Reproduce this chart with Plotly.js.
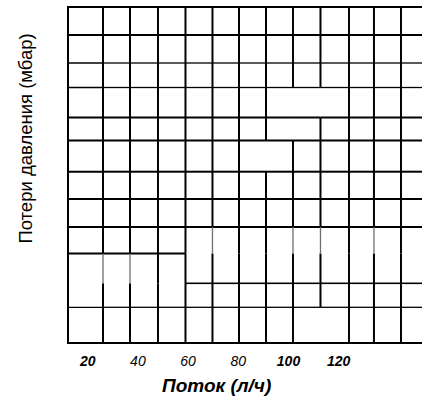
<!DOCTYPE html>
<html><head><meta charset="utf-8">
<script src="https://cdn.plot.ly/plotly-3.0.1.min.js"></script>
<style>html,body{margin:0;padding:0;background:#fff}#chart{width:422px;height:401px}</style>
</head><body><div id="chart"></div>
<script>
// Flow axis (л/ч) tick labels
const xTickVals = [20, 40, 60, 80, 100, 120];
const xTickText = ['<b>20</b>', '40', '60', '80', '<b>100</b>', '<b>120</b>'];
const xRange = [12.55, 153.2];
const yRange = [0, 334];
// vertical grid lines (flow values)
const vLines = [26.1, 36.85, 48.0, 58.96, 69.72, 80.28, 91.04, 101.79, 112.75, 124.1, 134.06, 144.82];
// horizontal grid lines, top to bottom (pressure loss units)
const hLines = [307, 279, 254.5, 224.5, 201.5, 170.3, 143, 115, 88.5, 58.7, 34.7];
const hWidths = [2, 1.3, 1.3, 2, 2, 2, 2, 2, 2, 1.6, 1.3];
// missing vertical pieces: [line (1-based), row (0-based from top)]
const vMissing = [[8, 3], [9, 3], [8, 4], [7, 5], [9, 11]];
// faint vertical pieces
const vFaint = [[5, 8], [8, 8], [9, 8], [11, 8], [1, 9], [2, 9]];
// missing horizontal pieces: [line (1-based), first column, last column]
const hMissing = [[9, 4, 12], [10, 0, 3]];

const yEdges = [yRange[1], ...hLines, yRange[0]];
const xEdges = [xRange[0], ...vLines, xRange[1]];
const has = (list, a, b) => list.some(p => p[0] === a && p[1] === b);

const vx = [], vy = [], fx = [], fy = [];
vLines.forEach((x, k) => {
  for (let j = 0; j < yEdges.length - 1; j++) {
    if (has(vMissing, k + 1, j)) continue;
    const faint = has(vFaint, k + 1, j);
    const tx = faint ? fx : vx;
    const ty = faint ? fy : vy;
    tx.push(x, x, null); ty.push(yEdges[j], yEdges[j + 1], null);
  }
});
const traces = [];
const byWidth = {};
hLines.forEach((y, i) => {
  const w = hWidths[i];
  if (!byWidth[w]) byWidth[w] = {x: [], y: []};
  for (let c = 0; c < xEdges.length - 1; c++) {
    if (hMissing.some(m => m[0] === i + 1 && c >= m[1] && c <= m[2])) continue;
    byWidth[w].x.push(xEdges[c], xEdges[c + 1], null);
    byWidth[w].y.push(y, y, null);
  }
});
Object.keys(byWidth).forEach(w => traces.push({x: byWidth[w].x, y: byWidth[w].y, mode: 'lines',
  line: {color: '#000', width: +w}, hoverinfo: 'skip', showlegend: false}));
traces.push({x: vx, y: vy, mode: 'lines', line: {color: '#000', width: 2}, hoverinfo: 'skip', showlegend: false});
traces.push({x: fx, y: fy, mode: 'lines', line: {color: '#6e6e6e', width: 1.3}, hoverinfo: 'skip', showlegend: false});

const fam = 'Liberation Sans, Arial, sans-serif';
const layout = {
  width: 422, height: 401,
  margin: {l: 69, r: 0, t: 8, b: 59},
  paper_bgcolor: '#fff', plot_bgcolor: '#fff',
  showlegend: false,
  xaxis: {range: xRange, tickvals: xTickVals, ticktext: xTickText, ticks: '', showgrid: false, zeroline: false,
    showline: true, linewidth: 2, linecolor: '#000', mirror: true, ticklabelstandoff: 5,
    tickfont: {family: fam, size: 14, style: 'italic', color: '#000'}},
  yaxis: {range: yRange, showticklabels: false, ticks: '', showgrid: false, zeroline: false,
    showline: true, linewidth: 2, linecolor: '#000', mirror: false},
  annotations: [
    {text: 'Потери давления (мбар)', textangle: -90, xref: 'paper', yref: 'paper', x: -0.1218, y: 0.609,
     xanchor: 'center', yanchor: 'middle', showarrow: false, font: {family: fam, size: 18.5, color: '#000'}},
    {text: '<b>Поток (л/ч)</b>', xref: 'paper', yref: 'paper', x: 0.419, y: -0.1317,
     xanchor: 'center', yanchor: 'middle', showarrow: false, font: {family: fam, size: 19, style: 'italic', color: '#000'}}
  ]
};
Plotly.newPlot('chart', traces, layout, {staticPlot: true, displayModeBar: false});
</script></body></html>
